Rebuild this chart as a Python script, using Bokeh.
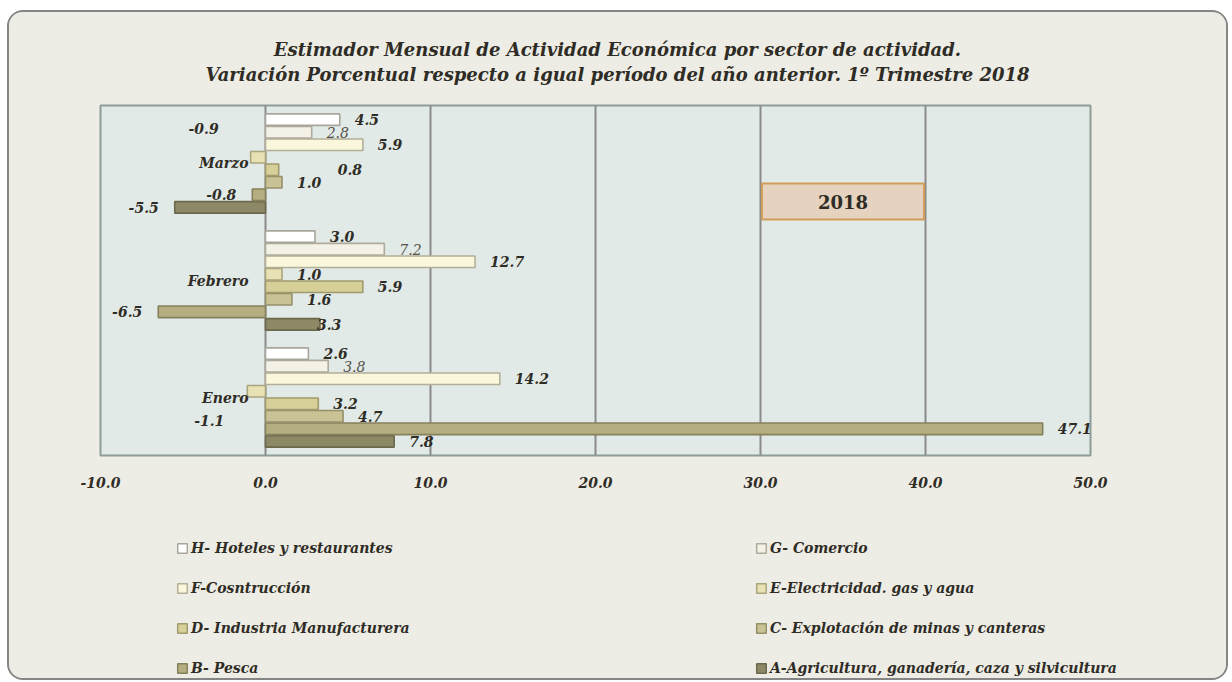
from bokeh.plotting import figure
from bokeh.layouts import column
from bokeh.models import (ColumnDataSource, FactorRange, Range1d, FixedTicker,
                          Label, Legend, LegendItem)
from bokeh.core.properties import value
from bokeh.embed import file_html
from bokeh.resources import INLINE

# ---------------- data ----------------
months = ["Enero", "Febrero", "Marzo"]          # bottom -> top
sector_codes = ["A", "B", "C", "D", "E", "F", "G", "H"]  # bottom -> top in each group
sector_names = [
    "A-Agricultura, ganadería, caza y silvicultura",
    "B- Pesca",
    "C- Explotación de minas y canteras",
    "D- Industria Manufacturera",
    "E-Electricidad. gas y agua",
    "F-Cosntrucción",
    "G- Comercio",
    "H- Hoteles y restaurantes",
]
# values per sector for [Enero, Febrero, Marzo]
val_A = [7.8, 3.3, -5.5]
val_B = [47.1, -6.5, -0.8]
val_C = [4.7, 1.6, 1.0]
val_D = [3.2, 5.9, 0.8]
val_E = [-1.1, 1.0, -0.9]
val_F = [14.2, 12.7, 5.9]
val_G = [3.8, 7.2, 2.8]
val_H = [2.6, 3.0, 4.5]
values = [val_A, val_B, val_C, val_D, val_E, val_F, val_G, val_H]

x_ticks = [-10, 0, 10, 20, 30, 40, 50]
x_tick_labels = ["-10.0", "0.0", "10.0", "20.0", "30.0", "40.0", "50.0"]
title_line1 = "Estimador Mensual de Actividad Económica por sector de actividad."
title_line2 = "Variación Porcentual respecto a igual período del año anterior. 1º Trimestre 2018"
year_text = "2018"
year_span = [30, 40]

# ---------------- styles ----------------
FONT = "DejaVu Serif"
TXT = "#2F2C26"
BG = "#EDECE5"
W = 1217
fills = ["#8D8865", "#B5AE80", "#C8C294", "#D6CF98", "#E7E1B3", "#FAF7DC", "#F4F2E6", "#FFFFFF"]
lines = ["#6C684C", "#86805C", "#958F6A", "#A19A6E", "#ABA57E", "#B3AF98", "#AFAB9C", "#A8A69A"]
label_dx_pos, label_dx_neg = 15, -16
nudges = {("Marzo", "E"): (-16, -29), ("Enero", "E"): (-7, 29),
          ("Marzo", "D"): (44, 0), ("Febrero", "A"): (-18, 0)}


def blank_fig(height):
    f = figure(width=W, height=height, output_backend="svg", toolbar_location=None,
               x_range=Range1d(0, 1), y_range=Range1d(0, 1),
               x_axis_location=None, y_axis_location=None, min_border=0,
               frame_align=False)
    f.border_fill_color = BG
    f.background_fill_color = BG
    f.outline_line_color = None
    f.xgrid.visible = False
    f.ygrid.visible = False
    return f


# ---------------- title ----------------
t = blank_fig(88)
for txt, ypos in [(title_line1, 51), (title_line2, 26)]:
    t.add_layout(Label(x=608, y=ypos, x_units="screen", y_units="screen", text=txt,
                       text_align="center", text_baseline="middle", text_font=FONT,
                       text_font_style="bold italic", text_font_size="18px",
                       text_color=TXT))

# ---------------- main chart ----------------
factors = [(m, s) for m in months for s in sector_codes]
p = figure(width=W, height=392, output_backend="svg", toolbar_location=None,
           x_range=Range1d(-10, 50),
           y_range=FactorRange(*factors, group_padding=1.34, range_padding=0.63,
                               range_padding_units="absolute"),
           min_border_left=91, min_border_right=136, min_border_top=5,
           min_border_bottom=37, frame_align=False)
p.border_fill_color = BG
p.background_fill_color = "#E1EAE7"
p.outline_line_color = "#8E9C97"
p.outline_line_width = 2

p.yaxis.visible = False
p.ygrid.grid_line_color = None
p.xgrid.grid_line_color = "#8A8A8A"
p.xgrid.grid_line_width = 2
p.xaxis.ticker = FixedTicker(ticks=x_ticks)
p.xaxis.major_label_overrides = {tk: lb for tk, lb in zip(x_ticks, x_tick_labels)}
p.xaxis.axis_line_color = None
p.xaxis.major_tick_line_color = None
p.xaxis.minor_tick_line_color = None
p.xaxis.major_tick_out = 0
p.xaxis.major_tick_in = 0
p.xaxis.minor_tick_out = 0
p.xaxis.major_label_standoff = 21
p.xaxis.major_label_text_font = FONT
p.xaxis.major_label_text_font_style = "bold italic"
p.xaxis.major_label_text_font_size = "14px"
p.xaxis.major_label_text_color = TXT

for code, vals, fc, lc in zip(sector_codes, values, fills, lines):
    src = ColumnDataSource(dict(y=[(m, code) for m in months], right=vals))
    p.hbar(y="y", left=0, right="right", height=0.92, source=src,
           fill_color=fc, line_color=lc, line_width=1.6)

# data labels
groups = {"pos": dict(x=[], y=[], t=[], dx=[], dy=[]),
          "neg": dict(x=[], y=[], t=[], dx=[], dy=[]),
          "gpos": dict(x=[], y=[], t=[], dx=[], dy=[])}
for code, vals in zip(sector_codes, values):
    for m, v in zip(months, vals):
        key = "gpos" if code == "G" else ("pos" if v >= 0 else "neg")
        base = label_dx_pos if v >= 0 else label_dx_neg
        ndx, ndy = nudges.get((m, code), (0, 0))
        g = groups[key]
        g["x"].append(v); g["y"].append((m, code)); g["t"].append(f"{v:.1f}")
        g["dx"].append(base + ndx); g["dy"].append(ndy)

for key, align, style, color in [("pos", "left", "bold italic", TXT),
                                 ("neg", "right", "bold italic", TXT),
                                 ("gpos", "left", "italic", "#55524A")]:
    src = ColumnDataSource(groups[key])
    p.text(x="x", y="y", text="t", x_offset="dx", y_offset="dy", source=src,
           text_align=align, text_baseline="middle", text_font=value(FONT),
           text_font_style=style, text_font_size="14px", text_color=color)

# category labels near the zero axis
p.text(x=[0] * len(months), y=months, text=months, x_offset=-17,
       text_align="right", text_baseline="middle", text_font=value(FONT),
       text_font_style="bold italic", text_font_size="14px", text_color=TXT)

# 2018 box
p.add_layout(Label(x=sum(year_span) / 2, y=254, x_units="data", y_units="screen",
                   text=year_text, text_align="center", text_baseline="middle",
                   text_font=FONT, text_font_style="bold", text_font_size="18px",
                   text_color=TXT, background_fill_color="#E5D3BF",
                   border_line_color="#D29D58", border_line_width=2,
                   padding=dict(left=56, right=56, top=11, bottom=11)))

# ---------------- legend ----------------
lg = blank_fig(186)
proxies = {}
for code, fc, lc in zip(sector_codes, fills, lines):
    # legend swatches only: a zero-size bar outside the visible range
    proxies[code] = lg.hbar(y=[-1.0], left=[0.0], right=[0.0], height=0.5,
                            fill_color=fc, line_color=lc, line_width=1.5)
legend_order = ["H", "F", "D", "B", "G", "E", "C", "A"]
items = [LegendItem(label=sector_names[sector_codes.index(c)], renderers=[proxies[c]])
         for c in legend_order]
legend = Legend(items=items, ncols=2, location=(167, 0), padding=0, margin=0,
                spacing=20, label_height=20, label_width=544, label_standoff=3,
                glyph_width=12, glyph_height=12,
                label_text_font=FONT, label_text_font_style="bold italic",
                label_text_font_size="14px", label_text_color=TXT,
                background_fill_alpha=0, border_line_alpha=0)
lg.add_layout(legend, "center")

layout = column(t, p, lg, spacing=0,
                styles={"border": "2px solid #858585", "border-radius": "16px",
                        "overflow": "hidden", "margin": "10px 0 0 7px",
                        "background-color": BG})

open("out.html", "w").write(file_html(layout, INLINE))
